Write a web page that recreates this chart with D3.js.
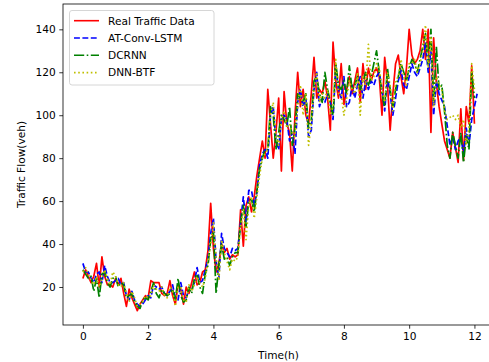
<!DOCTYPE html>
<html><head><meta charset="utf-8">
<script src="https://cdn.jsdelivr.net/npm/d3@7"></script>
<style>
html,body{margin:0;padding:0;background:#fff;}
svg{display:block;font-family:"DejaVu Sans",sans-serif;}
</style></head>
<body>
<svg id="chart" width="489" height="362"></svg>
<script>
// Time step: 5 minutes, 0..12 h (145 points)
const stepHours = 1/12;
const xTicks = [0, 2, 4, 6, 8, 10, 12];
const yTicks = [20, 40, 60, 80, 100, 120, 140];
const seriesNames = ["Real Traffic Data", "AT-Conv-LSTM", "DCRNN", "DNN-BTF"];

const realTraffic = [24,28,25,22,25,31,20,34,25,21,21,20,24,21,24,17,11,19,15,12,9,12,14,16,15,23,22,22,22,17,16,17,23,16,12,21,19,12,20,17,22,27,21,22,27,28,37,59,38,27,31,40,36,38,33,35,34,35,56,39,58,62,55,62,72,80,88,80,112,96,80,92,108,74,111,96,92,74,100,120,104,112,100,96,110,127,108,112,110,116,108,93,134,116,108,124,105,112,118,110,116,122,106,124,112,122,116,120,122,118,100,127,115,93,110,124,128,118,110,122,140,128,124,126,130,140,126,140,92,136,115,104,96,88,84,80,92,85,78,103,79,104,96,123,96];

const atConvLSTM = [31,27,27,24,22,26,27,22,30,25,22,22,23,24,21,22,16,14,18,14,12,11,12,14,16,15,21,20,19,20,17,16,18,21,15,14,22,16,15,19,19,22,29,22,23,28,33,45,52,32,24,45,38,36,34,38,37,38,50,62,50,65,65,58,64,77,82,84,80,100,104,88,84,98,100,98,88,92,82,106,112,104,108,90,93,112,120,104,108,106,110,106,98,123,112,108,118,104,106,114,108,114,118,108,116,112,116,114,118,120,112,102,118,110,100,108,116,121,114,112,118,124,120,118,122,126,134,120,130,100,116,110,107,104,95,86,90,84,88,90,82,94,86,98,104,110];

const dcrnn = [28,26,24,25,18,24,15,26,27,22,20,24,25,20,22,21,15,16,17,13,11,10,14,15,14,18,22,17,15,19,17,16,17,19,14,24,16,13,14,20,17,24,26,20,17,26,30,42,46,17,30,40,33,34,30,34,36,36,50,58,48,60,61,55,65,75,80,84,84,104,100,84,92,100,98,95,104,86,94,110,108,106,110,94,98,116,118,110,106,120,112,106,100,124,114,112,116,110,123,112,114,118,112,116,120,114,118,124,130,120,110,104,122,112,104,112,118,124,120,116,122,126,124,120,126,132,138,124,140,106,132,112,114,102,86,80,92,86,80,92,78,90,84,120,108];

const dnnBTF = [27,29,26,23,21,25,20,24,28,24,21,27,25,21,20,22,17,13,18,15,11,12,13,16,15,16,21,19,18,20,16,15,20,18,11,20,20,14,13,21,18,21,25,22,20,24,32,40,50,34,23,42,36,32,28,33,32,34,48,56,42,58,62,52,62,72,80,82,84,100,106,90,86,98,102,94,96,92,90,104,114,100,110,86,96,112,120,106,110,108,112,100,104,126,110,110,100,108,116,112,110,120,100,118,114,133,116,118,124,122,112,106,120,114,102,116,118,126,118,114,124,124,126,120,124,130,142,122,136,104,118,114,112,102,98,99,100,98,100,94,98,86,94,124,112];

const allSeries = [realTraffic, atConvLSTM, dcrnn, dnnBTF];
const styles = [
  {color:"#ff0000", dash:null},
  {color:"#0000ff", dash:"5.9,2.5"},
  {color:"#008000", dash:"10.2,2.5,1.6,2.5"},
  {color:"#bfbf00", dash:"1.6,2.6"}
];

const svg = d3.select("#chart");
const mLeft = 63, mRight = 494, mTop = 4, mBottom = 325;
const x = d3.scaleLinear().domain([-0.61, 12.6]).range([mLeft, mRight]);
const y = d3.scaleLinear().domain([2.3, 151.8]).range([mBottom, mTop]);

const plot = svg.append("g");
const line = d3.line().x((d,i)=>x(i*stepHours)).y(d=>y(d));
allSeries.forEach((s, k) => {
  plot.append("path").datum(s)
    .attr("d", line)
    .attr("fill", "none")
    .attr("stroke", styles[k].color)
    .attr("stroke-width", 1.7)
    .attr("stroke-linejoin", "round")
    .attr("stroke-dasharray", styles[k].dash);
});

// axes
const xAxis = d3.axisBottom(x).tickValues(xTicks).tickSize(3.7).tickPadding(3.5).tickFormat(d3.format("d"));
const yAxis = d3.axisLeft(y).tickValues(yTicks).tickSize(3.7).tickPadding(3.5).tickFormat(d3.format("d"));
const gx = svg.append("g").attr("transform", `translate(0,${mBottom})`).call(xAxis);
const gy = svg.append("g").attr("transform", `translate(${mLeft},0)`).call(yAxis);
[gx, gy].forEach(g => {
  g.select(".domain").remove();
  g.selectAll(".tick line").attr("stroke", "#000").attr("stroke-width", 0.8);
  g.selectAll(".tick text").attr("font-size", "10.6px").attr("fill", "#000")
    .attr("font-family", "DejaVu Sans, sans-serif");
});

// spines
const sp = svg.append("g").attr("stroke", "#000").attr("stroke-width", 0.8).attr("fill","none");
sp.append("rect").attr("x", mLeft).attr("y", mTop).attr("width", mRight-mLeft).attr("height", mBottom-mTop);

// axis labels
svg.append("text").attr("x", (mLeft+mRight)/2).attr("y", 359).attr("text-anchor","middle")
  .attr("font-size","10.6px").attr("fill","#000").text("Time(h)");
svg.append("text").attr("transform", `translate(25,${(mTop+mBottom)/2}) rotate(-90)`).attr("text-anchor","middle")
  .attr("font-size","10.6px").attr("fill","#000").text("Traffic Flow(veh)");

// legend
const lg = svg.append("g");
lg.append("rect").attr("x", 69.5).attr("y", 10.5).attr("width", 144.5).attr("height", 74.5)
  .attr("rx", 2.5).attr("fill", "#fff").attr("fill-opacity", 0.8).attr("stroke", "#cccccc").attr("stroke-width", 0.8);
seriesNames.forEach((name, k) => {
  const yy = 20.7 + k*17.3;
  lg.append("line").attr("x1", 74).attr("x2", 99).attr("y1", yy).attr("y2", yy)
    .attr("stroke", styles[k].color).attr("stroke-width", 1.6).attr("stroke-dasharray", styles[k].dash);
  lg.append("text").attr("x", 108).attr("y", yy).attr("dy", "0.36em")
    .attr("font-size","10.6px").attr("fill","#000").text(name);
});
</script>
</body></html>
